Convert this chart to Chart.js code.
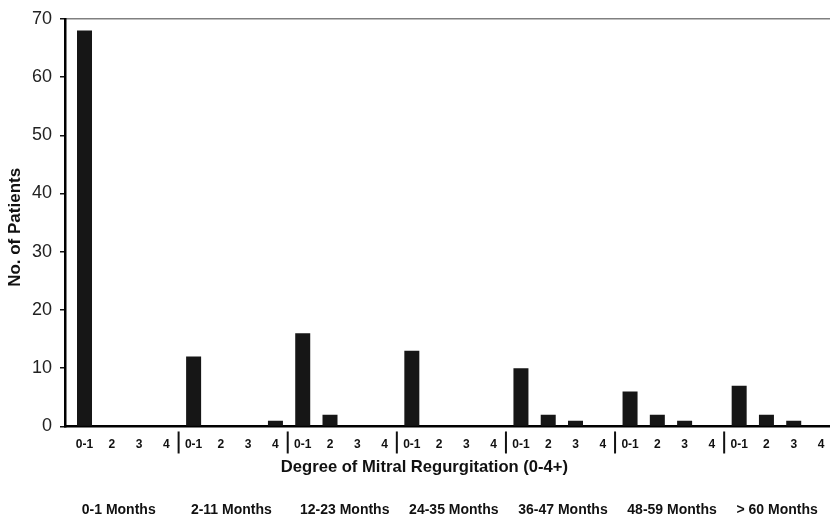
<!DOCTYPE html>
<html>
<head>
<meta charset="utf-8">
<script src="https://cdn.jsdelivr.net/npm/chart.js@4"></script>
<style>
html,body{margin:0;padding:0;background:#fff;}
canvas{display:block;}
</style>
</head>
<body>
<canvas id="c" width="830" height="517"></canvas>
<script>
// ---- data ----
const degreeLabels = [
  '0-1','2','3','4',
  '0-1','2','3','4',
  '0-1','2','3','4',
  '0-1','2','3','4',
  '0-1','2','3','4',
  '0-1','2','3','4',
  '0-1','2','3','4'
];
const periodLabels = ['0-1 Months','2-11 Months','12-23 Months','24-35 Months','36-47 Months','48-59 Months','> 60 Months'];
const patientCounts = [
  68,0,0,0,
  12,0,0,1,
  16,2,0,0,
  13,0,0,0,
  10,2,1,0,
  6,2,1,0,
  7,2,1,0
];
const yTickValues = [0,10,20,30,40,50,60,70];
const xTitle = 'Degree of Mitral Regurgitation (0-4+)';
const yTitle = 'No. of Patients';

// ---- chart ----
Chart.defaults.font.family = "'Liberation Sans', Arial, Helvetica, sans-serif";
const X_MIN = -0.715, X_MAX = 27.33;

const separators = {
  id: 'separators',
  afterDraw(chart) {
    const xs = chart.scales.x;
    const ctx = chart.ctx;
    const b = chart.chartArea.bottom;
    ctx.save();
    ctx.strokeStyle = '#111';
    ctx.lineWidth = 2;
    for (let k = 1; k < periodLabels.length; k++) {
      const px = xs.getPixelForValue(4 * k - 0.55);
      ctx.beginPath();
      ctx.moveTo(px, b + 5);
      ctx.lineTo(px, b + 27);
      ctx.stroke();
    }
    ctx.restore();
  }
};

new Chart(document.getElementById('c'), {
  type: 'bar',
  data: {
    datasets: [{
      data: patientCounts.map((v, i) => ({x: i, y: v})),
      backgroundColor: '#161616',
      borderWidth: 0,
      barPercentage: 1,
      categoryPercentage: 0.55
    }]
  },
  options: {
    responsive: false,
    devicePixelRatio: 1,
    animation: false,
    layout: {padding: {top: 15, right: 0, bottom: 0, left: 0}},
    plugins: {legend: {display: false}, tooltip: {enabled: false}},
    scales: {
      x: {
        type: 'linear', position: 'bottom', weight: 0, offset: false,
        min: X_MIN, max: X_MAX,
        afterBuildTicks: s => { s.ticks = degreeLabels.map((_, i) => ({value: i})); },
        ticks: {
          callback: (v, i) => degreeLabels[i],
          autoSkip: false, maxRotation: 0, minRotation: 0, padding: 0,
          font: {size: 12, weight: 'bold'}, color: '#111'
        },
        grid: {display: true, offset: false, drawOnChartArea: false, drawTicks: true, tickLength: 11, tickColor: 'rgba(0,0,0,0)'},
        border: {display: true, color: '#000', width: 2.5},
        title: {
          display: true, text: xTitle + '          ',
          font: {size: 16.6, weight: 'bold'}, color: '#111',
          padding: {top: 6, bottom: 25.2}
        }
      },
      x2: {
        type: 'linear', position: 'bottom', weight: 1, offset: false,
        min: X_MIN, max: X_MAX,
        afterBuildTicks: s => { s.ticks = periodLabels.map((_, k) => ({value: 4 * k - 0.1})); },
        ticks: {
          callback: (v, i) => periodLabels[i],
          autoSkip: false, maxRotation: 0, minRotation: 0, padding: 0, align: 'start',
          font: {size: 14, weight: 'bold', lineHeight: 1}, color: '#111'
        },
        grid: {display: false, offset: false, drawTicks: false},
        border: {display: false}
      },
      xTop: {
        type: 'linear', position: 'top', offset: false,
        min: X_MIN, max: X_MAX,
        ticks: {display: false},
        grid: {display: false, offset: false, drawTicks: false},
        border: {display: true, color: '#808080', width: 1.5}
      },
      y: {
        type: 'linear', position: 'left',
        min: 0, max: 70,
        afterBuildTicks: s => { s.ticks = yTickValues.map(v => ({value: v})); },
        afterFit: s => { s.width = 65; },
        ticks: {font: {size: 18}, color: '#222', padding: 8},
        grid: {drawOnChartArea: false, drawTicks: true, tickLength: 5, color: '#111', lineWidth: 1.5},
        border: {display: true, color: '#000', width: 2.5},
        title: {
          display: true, text: yTitle + '  ',
          font: {size: 17, weight: 'bold'}, color: '#111',
          padding: {top: 5, bottom: 0}
        }
      }
    }
  },
  plugins: [separators]
});
</script>
</body>
</html>
